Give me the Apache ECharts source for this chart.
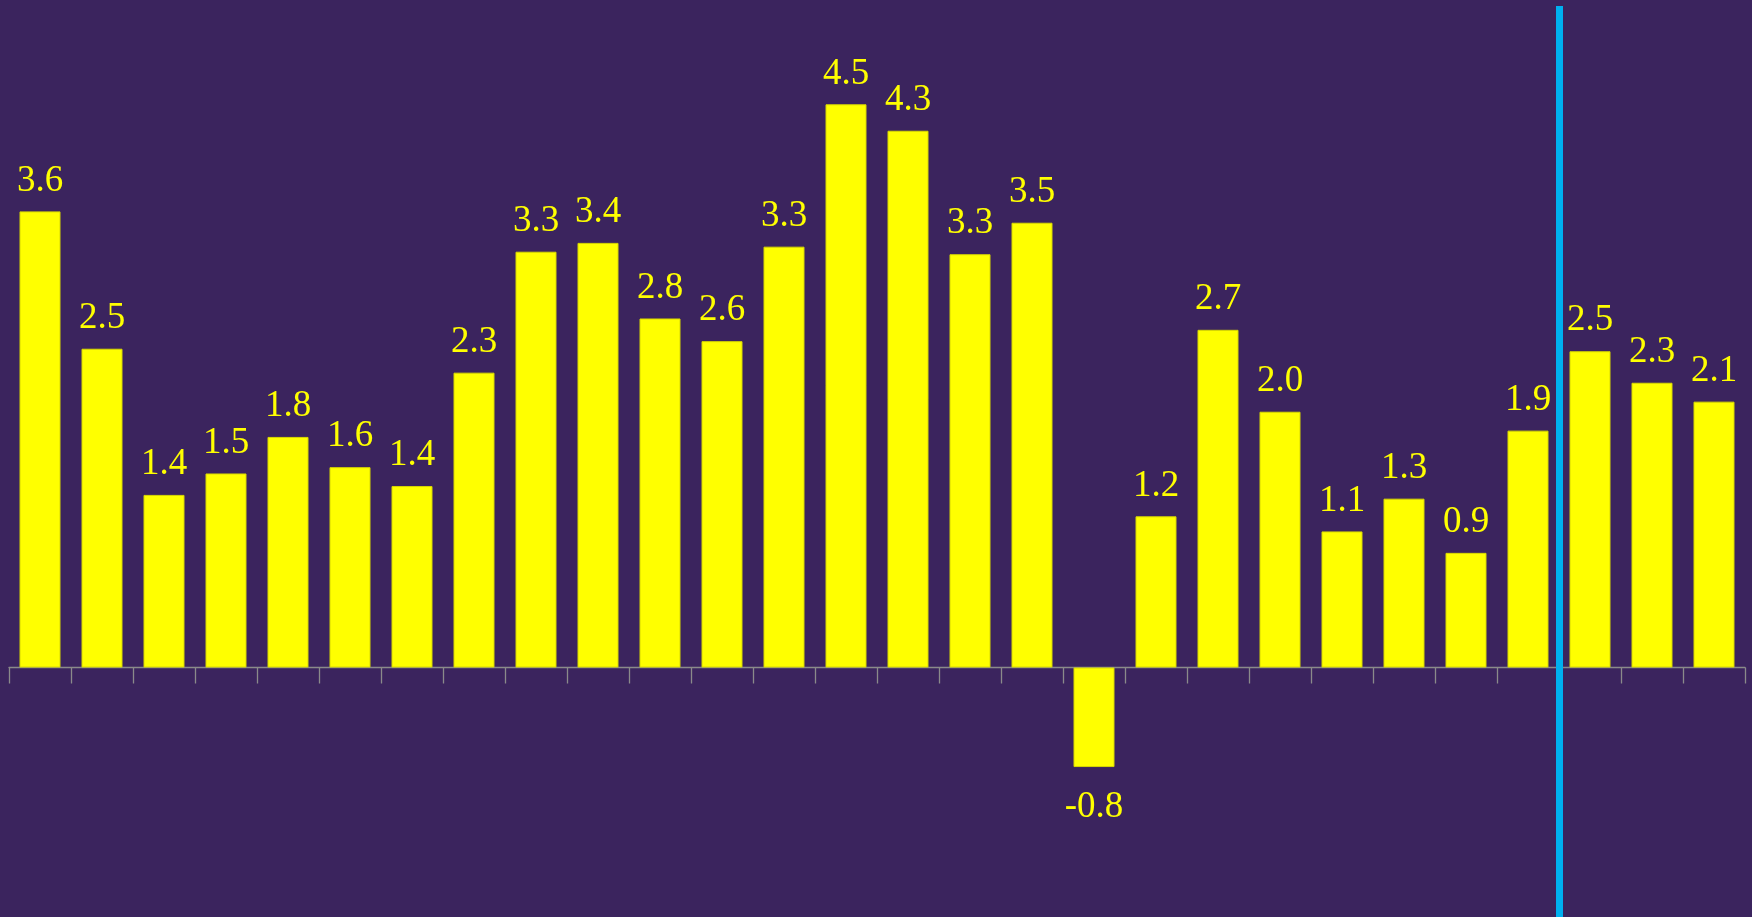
<!DOCTYPE html>
<html>
<head>
<meta charset="utf-8">
<script src="https://cdn.jsdelivr.net/npm/echarts@6/dist/echarts.min.js"></script>
<style>
html,body{margin:0;padding:0;background:#3b245e;}
#chart{width:1752px;height:917px;}
</style>
</head>
<body>
<div id="chart"></div>
<script>
const categories = ['1','2','3','4','5','6','7','8','9','10','11','12','13','14','15','16','17','18','19','20','21','22','23','24','25','26','27','28'];
const values = [3.62, 2.53, 1.37, 1.54, 1.83, 1.59, 1.44, 2.34, 3.30, 3.37, 2.77, 2.59, 3.34, 4.47, 4.26, 3.28, 3.53, -0.79, 1.20, 2.68, 2.03, 1.08, 1.34, 0.91, 1.88, 2.51, 2.26, 2.11];
const dividerAt = 25; // boundary between category 25 and 26

const chart = echarts.init(document.getElementById('chart'), null, {renderer: 'canvas'});
const yellow = '#ffff00';
const barData = values.map(v => ({
  value: v,
  label: v < 0 ? { position: 'bottom', distance: 22 } : { position: 'top' }
}));

chart.setOption({
  backgroundColor: '#3b245e',
  animation: false,
  grid: { left: 9, right: 7, top: 6, bottom: 0, containLabel: false },
  xAxis: [{
    type: 'category',
    data: categories,
    boundaryGap: true,
    axisLine: { show: true, onZero: true, lineStyle: { color: '#8a8a8a', width: 1.3 } },
    axisTick: { show: true, length: 16, lineStyle: { color: '#8a8a8a', width: 1.3 } },
    axisLabel: { show: false },
    splitLine: { show: false }
  }, {
    type: 'value',
    min: 0,
    max: categories.length,
    show: false
  }],
  yAxis: {
    type: 'value',
    min: -1.98,
    max: 5.25,
    show: false,
    splitLine: { show: false }
  },
  series: [{
    type: 'bar',
    data: barData,
    barWidth: 41,
    itemStyle: { color: yellow, borderColor: '#d8d800', borderWidth: 1 },
    label: {
      show: true,
      color: yellow,
      fontFamily: '"Liberation Serif", serif',
      fontSize: 37,
      distance: 12,
      formatter: p => p.value.toFixed(1)
    }
  }, {
    type: 'scatter',
    xAxisIndex: 1,
    data: [],
    markLine: {
      silent: true,
      symbol: 'none',
      label: { show: false },
      lineStyle: { color: '#00b0f0', width: 7, type: 'solid' },
      data: [{ xAxis: dividerAt }]
    }
  }]
});
</script>
</body>
</html>
